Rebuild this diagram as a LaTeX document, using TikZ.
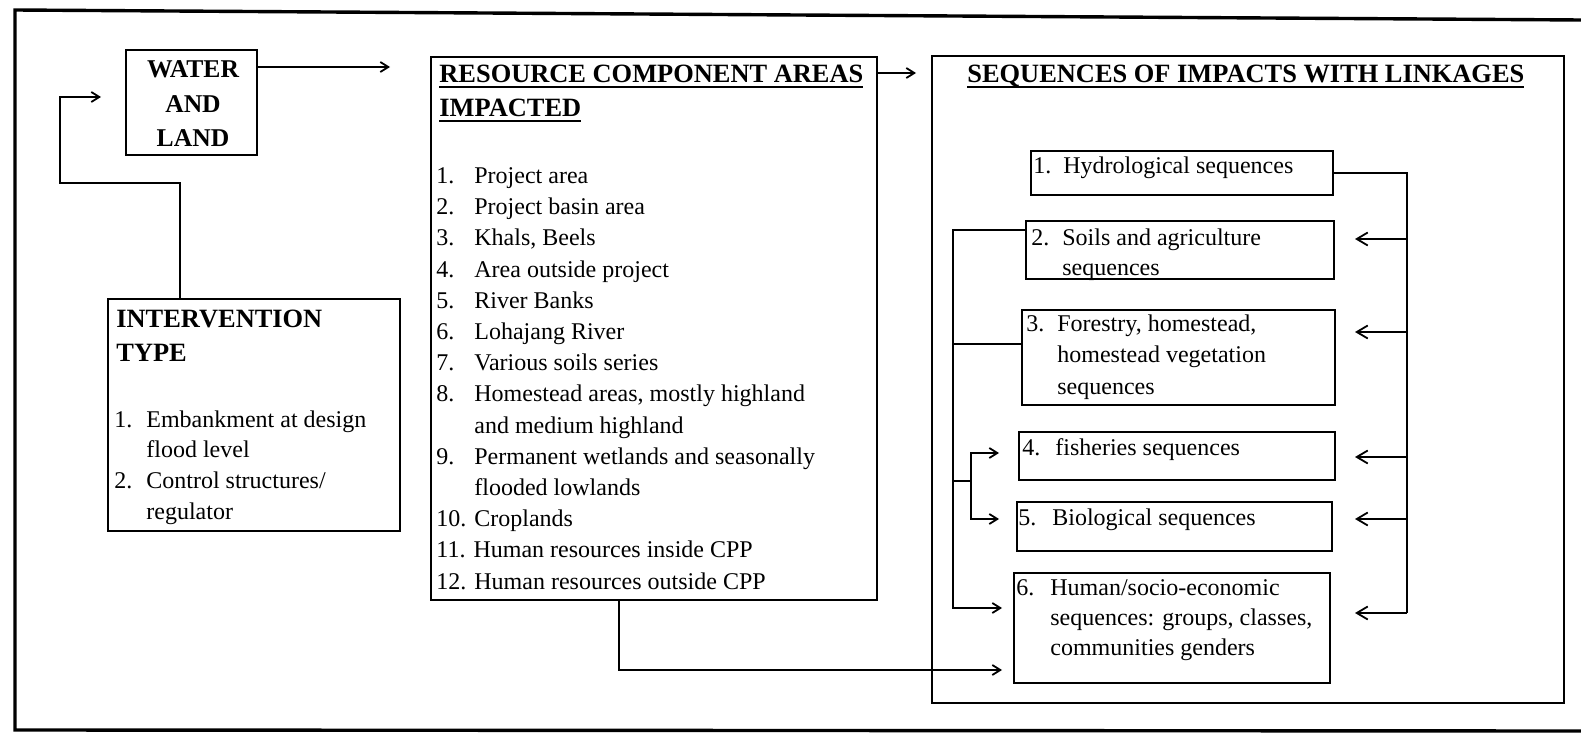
\documentclass[tikz,border=0pt]{standalone}
\usepackage{fontspec}
\setmainfont{Liberation Serif}
\usetikzlibrary{arrows.meta,fit}
\newcommand\myul[1]{\setbox0\hbox{#1}\rlap{\rule[-2.6pt]{\wd0}{0.9pt}}\box0}
\newcommand\num[2]{\makebox[#1][l]{#2}}
\begin{document}
\begin{tikzpicture}[x=0.5pt,y=-0.5pt,
  box/.style={draw, line width=0.9pt, inner sep=0pt},
  head/.style={font=\fontsize{13.2}{17}\selectfont\bfseries, inner sep=0pt, anchor=base west, align=left},
  txt/.style={font=\fontsize{12}{15.6}\selectfont, inner sep=0pt, anchor=base west, align=left},
  conn/.style={line width=0.9pt},
  rarr/.style={conn, -{Straight Barb[length=4pt,width=5pt,line width=0.9pt]}},
  larr/.style={conn, -{Straight Barb[length=5.5pt,width=6.5pt,line width=0.9pt]}}]
\useasboundingbox (0,0) rectangle (1581,733);
% outer frame
\draw[line width=1.7pt] (1581,20) -- (15,10) -- (15,730) -- (1581,731);
% boxes
\node[box, fit={(126,50) (257,155)}] (wl) {};
\node[box, fit={(108,299) (400,531)}] (iv) {};
\node[box, fit={(431,57) (877,600)}] (res) {};
\node[box, fit={(932,56) (1564,703)}] (seq) {};
\node[box, fit={(1031,151) (1333,195)}] (b1) {};
\node[box, fit={(1026,221) (1334,279)}] (b2) {};
\node[box, fit={(1022,310) (1335,405)}] (b3) {};
\node[box, fit={(1019,432) (1335,480)}] (b4) {};
\node[box, fit={(1017,502) (1332,551)}] (b5) {};
\node[box, fit={(1014,573) (1330,683)}] (b6) {};
% texts (anchors are at the baseline of the LAST line)
\node[head, anchor=base, align=center, font=\fontsize{12.8}{17.3}\selectfont\bfseries] (wlt) at (193,147) {WATER\\AND\\LAND};
\node[head] (ivh) at (116,361) {INTERVENTION\\TYPE};
\node[txt, font=\fontsize{12}{15.3}\selectfont] (ivt) at (114,519) {\num{16pt}{1.}Embankment at design\\\hspace*{16pt}flood level\\\num{16pt}{2.}Control structures/\\\hspace*{16pt}regulator};
\node[head] (resh) at (439,117) {\myul{RESOURCE COMPONENT AREAS}\\\myul{IMPACTED}};
\node[txt] (rest) at (436,589) {\num{19pt}{1.}Project area\\
\num{19pt}{2.}Project basin area\\
\num{19pt}{3.}Khals, Beels\\
\num{19pt}{4.}Area outside project\\
\num{19pt}{5.}River Banks\\
\num{19pt}{6.}Lohajang River\\
\num{19pt}{7.}Various soils series\\
\num{19pt}{8.}Homestead areas, mostly highland\\
\hspace*{19pt}and medium highland\\
\num{19pt}{9.}Permanent wetlands and seasonally\\
\hspace*{19pt}flooded lowlands\\
10. Croplands\\
11. Human resources inside CPP\\
12. Human resources outside CPP};
\node[head] (seqh) at (967,83) {\myul{SEQUENCES OF IMPACTS WITH LINKAGES}};
\node[txt] (b1t) at (1033,174) {\num{15pt}{1.}Hydrological sequences};
\node[txt, font=\fontsize{12}{15}\selectfont] (b2t) at (1031,275) {\num{15.5pt}{2.}Soils and agriculture\\\hspace*{15.5pt}sequences};
\node[txt] (b3t) at (1026,394) {\num{15.5pt}{3.}Forestry, homestead,\\\hspace*{15.5pt}homestead vegetation\\\hspace*{15.5pt}sequences};
\node[txt] (b4t) at (1022,455) {\num{16.5pt}{4.}fisheries sequences};
\node[txt] (b5t) at (1018,525) {\num{17pt}{5.}Biological sequences};
\node[txt, font=\fontsize{12}{15}\selectfont] (b6t) at (1016,655) {\num{17pt}{6.}Human/socio-economic\\\hspace*{17pt}sequences: groups, classes,\\\hspace*{17pt}communities genders};
% coordinates
\coordinate (wtip) at (390,67);
\coordinate (fc) at (60,183);
\coordinate (ftip) at (101,97);
\coordinate (rtip) at (916,73);
\coordinate (rb) at (1407,613);
\coordinate (a2) at (1355,239);
\coordinate (a3) at (1355,332);
\coordinate (a4) at (1355,457);
\coordinate (a5) at (1355,519);
\coordinate (a6) at (1355,613);
\coordinate (lb) at (953,608);
\coordinate (t6) at (1002,608);
\coordinate (c3) at (1022,344);
\coordinate (br) at (971,481);
\coordinate (t4) at (999,453);
\coordinate (t5) at (999,519);
\coordinate (t6b) at (1002,670);
\coordinate (rbot) at (619,600);
% connectors
\draw[rarr] (wl.east |- wtip) -- (wtip);
\draw[rarr] ([xshift=-37pt]iv.north) |- (fc) |- (ftip);
\draw[rarr] (res.east |- rtip) -- (rtip);
\draw[conn] (b1.east) -| (rb);
\draw[larr] (a2 -| rb) -- (a2);
\draw[larr] (a3 -| rb) -- (a3);
\draw[larr] (a4 -| rb) -- (a4);
\draw[larr] (a5 -| rb) -- (a5);
\draw[larr] (rb) -- (a6);
\draw[rarr] ([yshift=10pt]b2.west) -| (lb) -- (t6);
\draw[conn] (c3) -- (c3 -| lb);
\draw[conn] (br -| lb) -- (br);
\draw[rarr] (br) |- (t4);
\draw[rarr] (br) |- (t5);
\draw[rarr] (rbot) |- (t6b);
\end{tikzpicture}
\end{document}
